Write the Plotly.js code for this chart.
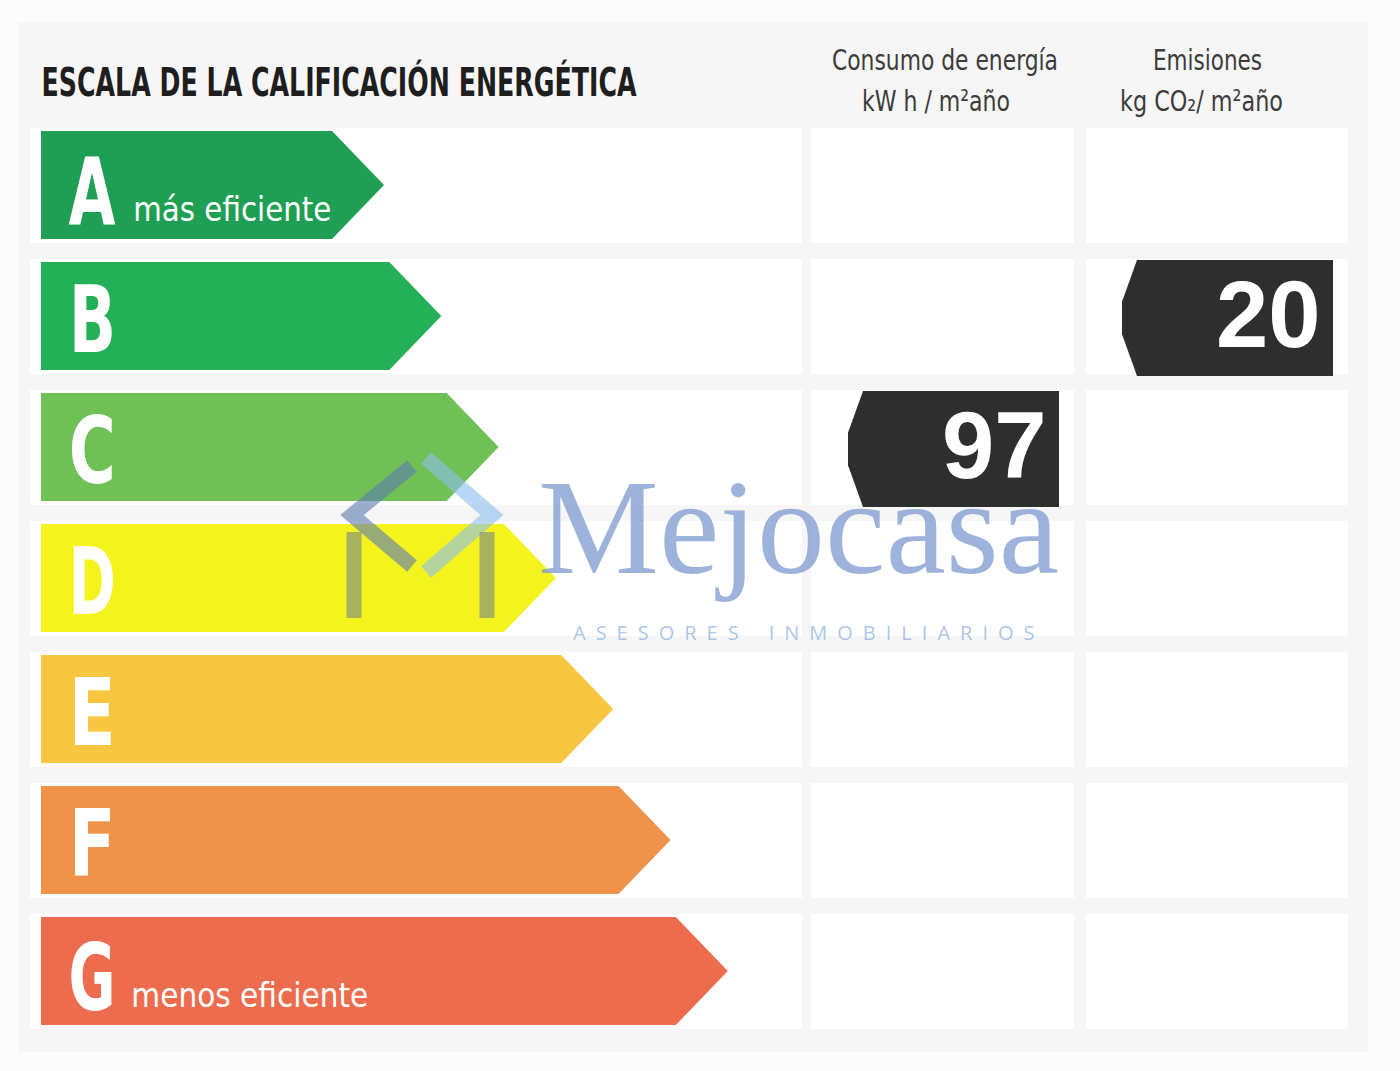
<!DOCTYPE html>
<html>
<head>
<meta charset="utf-8">
<script src="https://cdn.plot.ly/plotly-3.0.1.min.js"></script>
<style>html,body{margin:0;padding:0;background:#fcfcfc;}#chart{width:1400px;height:1071px;}</style>
</head>
<body>
<div id="chart"></div>
<script>
// ---- data ----
const categories = ['A', 'B', 'C', 'D', 'E', 'F', 'G'];
const subLabels = ['más eficiente', '', '', '', '', '', 'menos eficiente'];
const classColors = ['#1f9f54', '#23b057', '#70c155', '#f5f31e', '#f8c640', '#ef934b', '#ee6c4e'];
const consumoValue = [97];
const consumoClass = ['C'];
const emisionesValue = [20];
const emisionesClass = ['B'];
const titleText = 'ESCALA DE LA CALIFICACIÓN ENERGÉTICA';
const consumoHeader = ['Consumo de energía', 'kW h / m²año'];
const emisionesHeader = ['Emisiones', 'kg CO\u2082/ m²año'];

// ---- layout geometry ----
const W = 1400, H = 1071;
const rowTop0 = 131, rowPitch = 131, rowH = 108;
const arrowLeft = 41, tip0 = 384, tipStep = 57.3, tipLen = 52;
const colCons = [811, 1074], colEmis = [1086, 1348];
const cond = '"DejaVu Sans Condensed", "DejaVu Sans", sans-serif';

const rowTop = i => rowTop0 + i * rowPitch;
const traces = [];
const shapes = [];
const annotations = [];
const fitWidths = {}; // text -> target rendered width (horizontal condensing)

shapes.push({type: 'rect', xref: 'x', yref: 'y', x0: 18, x1: 1368, y0: 22, y1: 1052,
  fillcolor: '#f6f6f6', line: {width: 0}, layer: 'below'});

categories.forEach((c, i) => {
  const t = rowTop(i), b = t + rowH;
  shapes.push({type: 'rect', xref: 'x', yref: 'y', x0: 30, x1: 802, y0: t - 3, y1: b + 4,
    fillcolor: '#ffffff', line: {width: 0}, layer: 'below'});
  [colCons, colEmis].forEach(col => {
    shapes.push({type: 'rect', xref: 'x', yref: 'y', x0: col[0], x1: col[1], y0: t - 3, y1: b + 4,
      fillcolor: '#ffffff', line: {width: 0}, layer: 'below'});
  });
  const tip = tip0 + i * tipStep;
  const mid = (t + b) / 2;
  traces.push({
    type: 'scatter', mode: 'lines', fill: 'toself', fillcolor: classColors[i],
    line: {width: 0, color: classColors[i]}, hoverinfo: 'skip', showlegend: false,
    x: [arrowLeft, tip - tipLen, tip, tip - tipLen, arrowLeft, arrowLeft],
    y: [t, t, mid, b, b, t]
  });
  const hasSub = subLabels[i] !== '';
  annotations.push({xref: 'x', yref: 'y', x: 92, y: hasSub ? mid + 7 : mid + 4,
    xanchor: 'center', yanchor: 'middle', showarrow: false, text: c,
    font: {family: cond, size: 92, weight: 'bold', color: '#ffffff'}});
  fitWidths[c] = 47;
  if (hasSub) {
    const w = i === 0 ? 198 : 237;
    annotations.push({xref: 'x', yref: 'y', x: (i === 0 ? 133 : 131) + w / 2, y: mid + 24,
      xanchor: 'center', yanchor: 'middle', showarrow: false, text: subLabels[i],
      font: {family: cond, size: 33, color: '#ffffff'}});
    fitWidths[subLabels[i]] = w;
  }
});

function addTag(cls, value, col) {
  const i = categories.indexOf(cls);
  const t = rowTop(i) - 2, b = rowTop(i) + 114, h = b - t;
  const xr = col[1] - 15, xl = xr - 211;
  traces.push({
    type: 'scatter', mode: 'lines', fill: 'toself', fillcolor: '#2e2e2e',
    line: {width: 0, color: '#2e2e2e'}, hoverinfo: 'skip', showlegend: false,
    x: [xl + 15, xr, xr, xl + 15, xl, xl, xl + 15],
    y: [t, t, b, b, b - h * 0.36, t + h * 0.36, t]
  });
  annotations.push({xref: 'x', yref: 'y', x: xr - 10, y: (t + b) / 2 - 4,
    xanchor: 'right', yanchor: 'middle', showarrow: false, text: String(value),
    font: {family: 'Liberation Sans, Arial, sans-serif', size: 94, weight: 'bold', color: '#ffffff'}});
}
addTag(consumoClass[0], consumoValue[0], colCons);
addTag(emisionesClass[0], emisionesValue[0], colEmis);

annotations.push({xref: 'x', yref: 'y', x: 338.5, y: 82, xanchor: 'center', yanchor: 'middle',
  showarrow: false, text: titleText, width: 600,
  font: {family: cond, size: 39, weight: 'bold', color: '#1e1e1e'}});
fitWidths[titleText] = 595;
const consW = [226, 148], emisW = [109, 163];
consumoHeader.forEach((txt, k) => {
  annotations.push({xref: 'x', yref: 'y', x: [945, 936][k], y: 60 + k * 41,
    xanchor: 'center', yanchor: 'middle', showarrow: false, text: txt, width: consW[k] + 6,
    font: {family: cond, size: 29, color: '#3c3c3c'}});
  fitWidths[txt] = consW[k];
});
emisionesHeader.forEach((txt, k) => {
  annotations.push({xref: 'x', yref: 'y', x: [1207, 1201][k], y: 60 + k * 41,
    xanchor: 'center', yanchor: 'middle', showarrow: false, text: txt, width: emisW[k] + 6,
    font: {family: cond, size: 29, color: '#3c3c3c'}});
  fitWidths[txt] = emisW[k];
});

// watermark
annotations.push({xref: 'x', yref: 'y', x: 536, y: 527, xanchor: 'left', yanchor: 'middle',
  showarrow: false, text: 'Mejocasa',
  font: {family: '"Liberation Serif", "DejaVu Serif", serif', size: 136, color: 'rgba(120,150,205,0.72)'}});
annotations.push({xref: 'x', yref: 'y', x: 571, y: 632, xanchor: 'left', yanchor: 'middle',
  showarrow: false, text: 'A\u2002S\u2002E\u2002S\u2002O\u2002R\u2002E\u2002S\u2002\u2002\u2002I\u2002N\u2002M\u2002O\u2002B\u2002I\u2002L\u2002I\u2002A\u2002R\u2002I\u2002O\u2002S',
  font: {family: '"Open Sans", sans-serif', size: 20, color: 'rgba(150,185,225,0.8)'}});
const logo = [
  {pts: [[412, 466], [352, 515], [412, 566]], color: 'rgba(95,125,175,0.62)'},
  {pts: [[426, 458], [492, 515], [426, 572]], color: 'rgba(140,190,235,0.62)'},
  {pts: [[354, 532], [354, 618]], color: 'rgba(115,135,140,0.6)'},
  {pts: [[487, 532], [487, 618]], color: 'rgba(115,135,140,0.6)'}
];
logo.forEach(s => {
  traces.push({type: 'scatter', mode: 'lines', hoverinfo: 'skip', showlegend: false,
    x: s.pts.map(p => p[0]), y: s.pts.map(p => p[1]),
    line: {width: 15, color: s.color}});
});

const layout = {
  width: W, height: H,
  margin: {l: 0, r: 0, t: 0, b: 0},
  paper_bgcolor: '#fcfcfc', plot_bgcolor: '#fcfcfc',
  xaxis: {range: [0, W], visible: false, fixedrange: true},
  yaxis: {range: [H, 0], visible: false, fixedrange: true},
  shapes: shapes, annotations: annotations, showlegend: false
};
Plotly.newPlot('chart', traces, layout, {displayModeBar: false, staticPlot: true}).then(gd => {
  gd.querySelectorAll('.annotation-text').forEach(el => {
    const key = el.textContent;
    if (fitWidths[key] !== undefined) {
      el.setAttribute('textLength', fitWidths[key]);
      el.setAttribute('lengthAdjust', 'spacingAndGlyphs');
    }
  });
});
</script>
</body>
</html>
